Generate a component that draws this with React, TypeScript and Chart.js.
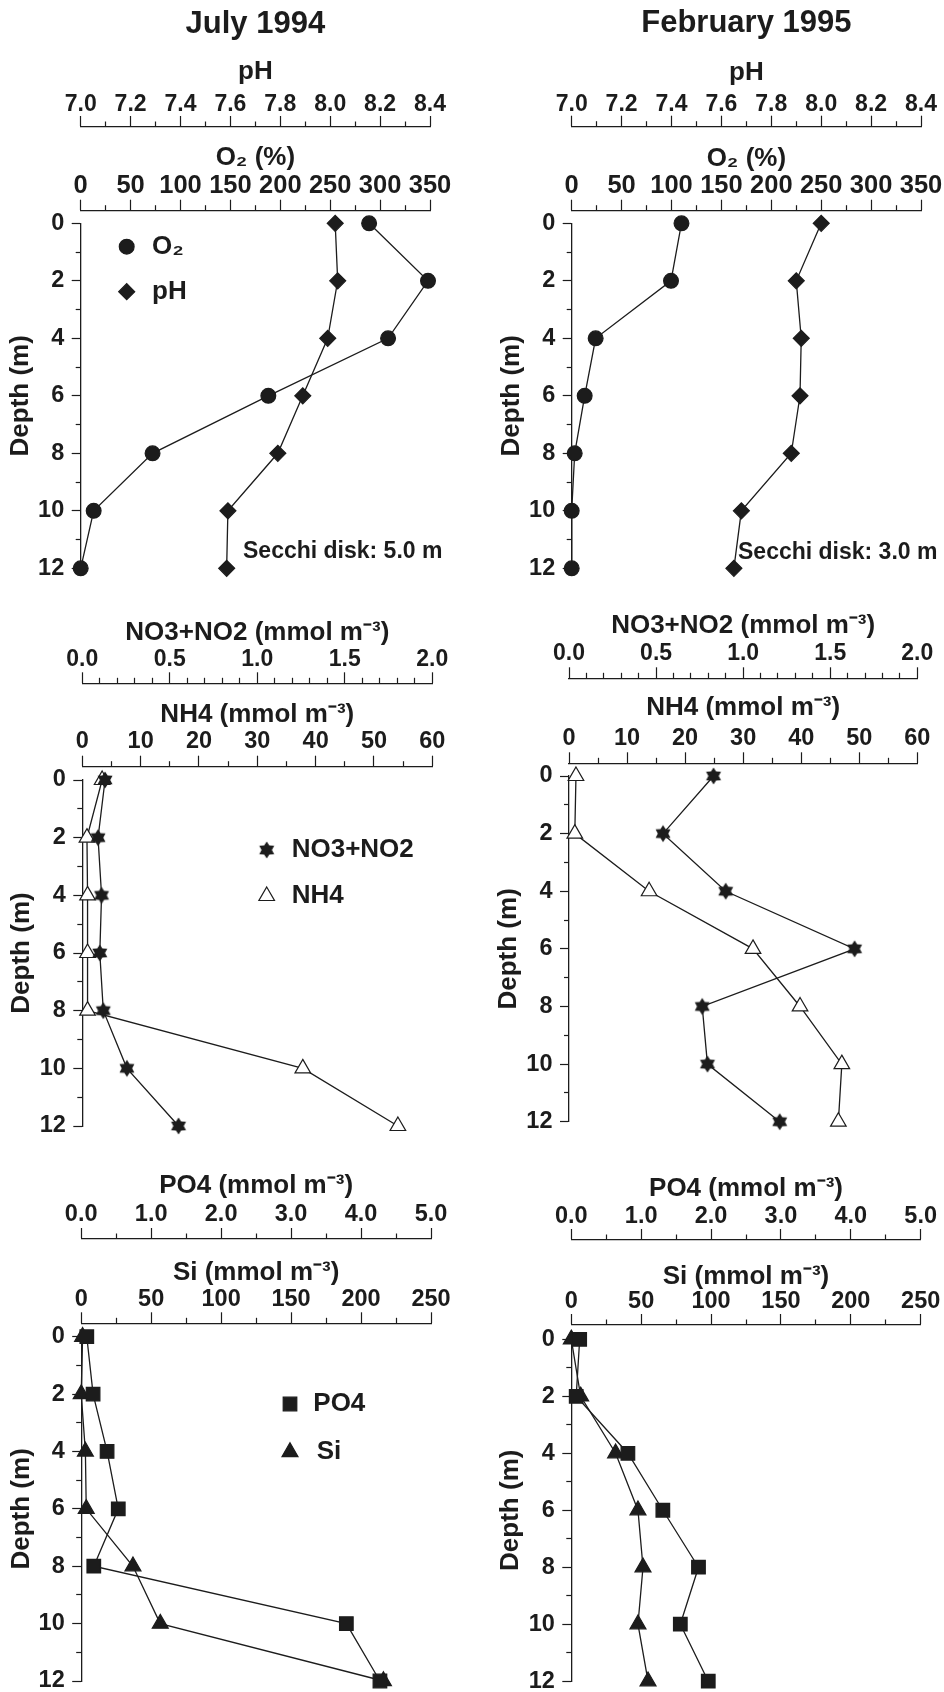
import React, { useEffect, useRef } from 'react';
import { Chart, registerables } from 'chart.js';

Chart.register(...registerables);

const INK = '#1c1c1c';
const FONT = "'Liberation Sans', Arial, Helvetica, sans-serif";
const NARROW = "'Liberation Sans Narrow', 'Arial Narrow', 'Liberation Sans', Arial, sans-serif";

// ---------- data ----------
const DEPTH = [0, 2, 4, 6, 8, 10, 12];
const DEPTH_TICK_LABELS = ['0', '2', '4', '6', '8', '10', '12'];

const PH_TICK_LABELS = ['7.0', '7.2', '7.4', '7.6', '7.8', '8.0', '8.2', '8.4'];
const O2_TICK_LABELS = ['0', '50', '100', '150', '200', '250', '300', '350'];
const NO3_TICK_LABELS = ['0.0', '0.5', '1.0', '1.5', '2.0'];
const NH4_TICK_LABELS = ['0', '10', '20', '30', '40', '50', '60'];
const PO4_TICK_LABELS = ['0.0', '1.0', '2.0', '3.0', '4.0', '5.0'];
const SI_TICK_LABELS = ['0', '50', '100', '150', '200', '250'];

// July 1994
const O2_JUL = [289, 348, 308, 188, 72, 13, 0];
const PH_JUL = [8.02, 8.03, 7.99, 7.89, 7.79, 7.59, 7.585];
const NO3_JUL = [0.13, 0.09, 0.11, 0.1, 0.12, 0.255, 0.55];
const NH4_JUL = [3.4, 0.8, 0.9, 0.9, 0.9, 37.8, 54.1];
const PO4_JUL = [0.08, 0.17, 0.37, 0.53, 0.18, 3.79, 4.27];
const SI_JUL = [1, 0, 3, 3.6, 37, 56.5, 216];

// February 1995
const O2_FEB = [110, 99.5, 24, 13, 3, 0, 0];
const PH_FEB = [8.0, 7.9, 7.92, 7.915, 7.88, 7.68, 7.65];
const NO3_FEB = [0.83, 0.54, 0.9, 1.64, 0.765, 0.795, 1.21];
const NH4_FEB = [1.2, 1.0, 13.8, 31.7, 39.8, 47.0, 46.4];
const PO4_FEB = [0.12, 0.07, 0.81, 1.31, 1.82, 1.56, 1.96];
const SI_FEB = [0, 6.7, 31.7, 47.7, 51.3, 47.7, 54.9];

// ---------- helpers ----------
type Tk = { value: number; lbl: string; minor: boolean };
function buildTicks(labels: string[], sub: number): Tk[] {
  const out: Tk[] = [];
  for (let i = 0; i < labels.length; i++) {
    const v = parseFloat(labels[i]);
    out.push({ value: v, lbl: labels[i], minor: false });
    if (i < labels.length - 1 && sub > 1) {
      const next = parseFloat(labels[i + 1]);
      for (let k = 1; k < sub; k++) out.push({ value: v + ((next - v) * k) / sub, lbl: '', minor: true });
    }
  }
  return out;
}

let STAR: HTMLCanvasElement | null = null;
function starImg(): HTMLCanvasElement {
  if (STAR) return STAR;
  const R = 8.6;
  const size = Math.ceil(R * 2 + 2);
  const c = document.createElement('canvas');
  c.width = size;
  c.height = size;
  const g = c.getContext('2d')!;
  const cx = size / 2, cy = size / 2, r = R / Math.sqrt(3) * 1.05;
  g.beginPath();
  for (let k = 0; k < 12; k++) {
    const a = -Math.PI / 2 + (k * Math.PI) / 6;
    const rr = k % 2 === 0 ? R : r;
    const px = cx + rr * Math.cos(a), py = cy + rr * Math.sin(a);
    if (k === 0) g.moveTo(px, py); else g.lineTo(px, py);
  }
  g.closePath();
  g.fillStyle = INK;
  g.fill();
  STAR = c;
  return c;
}

function drawMarker(ctx: CanvasRenderingContext2D, style: string, r: number, fill: string, x: number, y: number) {
  if (style === 'star') {
    const img = starImg();
    ctx.drawImage(img, x - img.width / 2, y - img.height / 2);
    return;
  }
  ctx.beginPath();
  if (style === 'circle') ctx.arc(x, y, r, 0, Math.PI * 2);
  else if (style === 'rect') {
    const s = r * Math.SQRT1_2;
    ctx.rect(x - s, y - s, 2 * s, 2 * s);
  } else if (style === 'rectRot') {
    ctx.moveTo(x - r, y); ctx.lineTo(x, y - r); ctx.lineTo(x + r, y); ctx.lineTo(x, y + r); ctx.closePath();
  } else if (style === 'triangle') {
    const t = (2 * Math.PI) / 3;
    ctx.moveTo(x, y - r);
    ctx.lineTo(x + r * Math.sin(t), y - r * Math.cos(t));
    ctx.lineTo(x + r * Math.sin(2 * t), y - r * Math.cos(2 * t));
    ctx.closePath();
  }
  ctx.fillStyle = fill;
  ctx.fill();
  ctx.lineWidth = 1.2;
  ctx.strokeStyle = INK;
  ctx.stroke();
}

type AxisSpec = {
  title: string; labels: string[]; sub: number; line: number; titleC: number; labelC: number; size: number; family?: string;
};
type Series = { label: string; values: number[]; axis: 'A' | 'B'; style: string; r: number; fill: string };
type PanelSpec = {
  x: number; y: number; w: number; h: number;
  title?: string; titleC?: number;
  L: number; R: number; d0: number; d12: number; yTitleC: number;
  A: AxisSpec; B: AxisSpec;
  series: Series[];
  legend: { s: number; mx: number; my: number; tx: number }[];
  note?: { text: string; x: number; y: number };
};

const phAxis = (line: number, titleC: number, labelC: number): AxisSpec => ({ title: 'pH', labels: PH_TICK_LABELS, sub: 2, line, titleC, labelC, size: 23 });
const o2Axis = (line: number, titleC: number, labelC: number): AxisSpec => ({ title: 'O₂ (%)', labels: O2_TICK_LABELS, sub: 2, line, titleC, labelC, size: 25.5, family: NARROW });
const no3Axis = (line: number, titleC: number, labelC: number): AxisSpec => ({ title: 'NO3+NO2 (mmol m⁻³)', labels: NO3_TICK_LABELS, sub: 5, line, titleC, labelC, size: 23 });
const nh4Axis = (line: number, titleC: number, labelC: number): AxisSpec => ({ title: 'NH4 (mmol m⁻³)', labels: NH4_TICK_LABELS, sub: 2, line, titleC, labelC, size: 23.5 });
const po4Axis = (line: number, titleC: number, labelC: number): AxisSpec => ({ title: 'PO4 (mmol m⁻³)', labels: PO4_TICK_LABELS, sub: 2, line, titleC, labelC, size: 23.5 });
const siAxis = (line: number, titleC: number, labelC: number): AxisSpec => ({ title: 'Si (mmol m⁻³)', labels: SI_TICK_LABELS, sub: 2, line, titleC, labelC, size: 23.5 });

const PANELS: PanelSpec[] = [
  {
    x: 0, y: 0, w: 470, h: 590, title: 'July 1994', titleC: 24.2,
    L: 80.7, R: 430, d0: 223.3, d12: 568.3, yTitleC: 20.5,
    A: phAxis(127, 71.7, 104.5), B: o2Axis(210.7, 157.5, 185.8),
    series: [
      { label: 'O₂', values: O2_JUL, axis: 'B', style: 'circle', r: 7.4, fill: INK },
      { label: 'pH', values: PH_JUL, axis: 'A', style: 'rectRot', r: 8, fill: INK },
    ],
    legend: [{ s: 0, mx: 126.7, my: 246.7, tx: 152 }, { s: 1, mx: 126.7, my: 291.7, tx: 152 }],
    note: { text: 'Secchi disk: 5.0 m', x: 243, y: 552 },
  },
  {
    x: 470, y: 0, w: 474, h: 590, title: 'February 1995', titleC: 23.3,
    L: 101.7, R: 451, d0: 223.3, d12: 568.3, yTitleC: 42,
    A: phAxis(126.7, 72.5, 105), B: o2Axis(210.7, 159, 185.8),
    series: [
      { label: 'O₂', values: O2_FEB, axis: 'B', style: 'circle', r: 7.4, fill: INK },
      { label: 'pH', values: PH_FEB, axis: 'A', style: 'rectRot', r: 8, fill: INK },
    ],
    legend: [],
    note: { text: 'Secchi disk: 3.0 m', x: 268, y: 553 },
  },
  {
    x: 0, y: 590, w: 470, h: 570,
    L: 82.3, R: 432.3, d0: 190, d12: 536, yTitleC: 22,
    A: no3Axis(93.3, 43, 69.2), B: nh4Axis(176.7, 125, 151.7),
    series: [
      { label: 'NO3+NO2', values: NO3_JUL, axis: 'A', style: 'star', r: 8, fill: INK },
      { label: 'NH4', values: NH4_JUL, axis: 'B', style: 'triangle', r: 9, fill: '#ffffff' },
    ],
    legend: [{ s: 0, mx: 266.7, my: 260, tx: 291.7 }, { s: 1, mx: 266.7, my: 306, tx: 291.7 }],
  },
  {
    x: 470, y: 590, w: 474, h: 570,
    L: 99, R: 447.3, d0: 186, d12: 531.7, yTitleC: 38.5,
    A: no3Axis(88.3, 35.8, 63.3), B: nh4Axis(173.3, 118.3, 148.3),
    series: [
      { label: 'NO3+NO2', values: NO3_FEB, axis: 'A', style: 'star', r: 8, fill: INK },
      { label: 'NH4', values: NH4_FEB, axis: 'B', style: 'triangle', r: 9, fill: '#ffffff' },
    ],
    legend: [],
  },
  {
    x: 0, y: 1160, w: 470, h: 532,
    L: 81.2, R: 431, d0: 176.7, d12: 521, yTitleC: 22,
    A: po4Axis(79, 25.8, 55), B: siAxis(163.3, 112.5, 140),
    series: [
      { label: 'PO4', values: PO4_JUL, axis: 'A', style: 'rect', r: 9.6, fill: INK },
      { label: 'Si', values: SI_JUL, axis: 'B', style: 'triangle', r: 9.2, fill: INK },
    ],
    legend: [{ s: 0, mx: 290, my: 244, tx: 313.3 }, { s: 1, mx: 290, my: 292, tx: 316.7 }],
  },
  {
    x: 470, y: 1160, w: 474, h: 532,
    L: 101.3, R: 450.7, d0: 179.3, d12: 522.7, yTitleC: 41,
    A: po4Axis(80, 29.2, 56.7), B: siAxis(165, 116.7, 141.7),
    series: [
      { label: 'PO4', values: PO4_FEB, axis: 'A', style: 'rect', r: 9.6, fill: INK },
      { label: 'Si', values: SI_FEB, axis: 'B', style: 'triangle', r: 9.2, fill: INK },
    ],
    legend: [],
  },
];

const TL_X = 11; // major tick length, x axes
const MINOR_X = 5.5;
const TL_Y = 9;
const MINOR_Y = 5;
const AX_TITLE_SIZE = 26;
const AX_TITLE_LH = AX_TITLE_SIZE * 1.2;

function makeConfig(p: PanelSpec): any {
  let top = 0;
  const plugins: any = { legend: { display: false }, tooltip: { enabled: false } };
  if (p.title) {
    const lh = 31 * 1.2;
    const pt = (p.titleC as number) - lh / 2;
    plugins.title = {
      display: true, text: p.title, fullSize: false, color: INK,
      font: { family: FONT, size: 31, weight: 'bold', lineHeight: 1.2 },
      padding: { top: pt, bottom: 0 },
    };
    top = pt + lh;
  }

  const xAxis = (ax: AxisSpec, boxTop: number, weight: number) => ({
    type: 'linear', position: 'top', axis: 'x', weight,
    min: parseFloat(ax.labels[0]), max: parseFloat(ax.labels[ax.labels.length - 1]),
    afterBuildTicks: (s: any) => { s.ticks = buildTicks(ax.labels, ax.sub); },
    afterFit: (s: any) => { s.height = ax.line - boxTop; s.paddingLeft = 0; s.paddingRight = 0; },
    ticks: {
      autoSkip: false, maxRotation: 0, minRotation: 0, color: INK,
      font: { family: ax.family ?? FONT, size: ax.size, weight: 'bold', lineHeight: 1 },
      padding: ax.line - ax.labelC - TL_X - ax.size / 2,
      callback: (_v: any, i: number, t: any[]) => t[i].lbl,
    },
    grid: {
      display: true, drawOnChartArea: false, drawTicks: true, tickLength: TL_X, tickWidth: 1.2, tickColor: INK,
      tickBorderDash: (c: any) => (c.tick && c.tick.minor ? [MINOR_X, TL_X - MINOR_X] : []),
      tickBorderDashOffset: (c: any) => (c.tick && c.tick.minor ? MINOR_X : 0),
    },
    border: { display: true, color: INK, width: 1.3 },
    title: {
      display: true, text: ax.title, color: INK,
      font: { family: FONT, size: AX_TITLE_SIZE, weight: 'bold', lineHeight: 1.2 },
      padding: { top: ax.titleC - boxTop - AX_TITLE_LH / 2, bottom: 0 },
    },
  });

  const scales: any = {
    xA: xAxis(p.A, top, 2),
    xB: xAxis(p.B, p.A.line, 1),
    xS: {
      type: 'linear', position: 'top', axis: 'x', weight: 0, min: 0, max: 1, display: true,
      ticks: { display: false }, grid: { display: false }, border: { display: false }, title: { display: false },
      afterFit: (s: any) => { s.height = p.d0 - p.B.line; s.paddingLeft = 0; s.paddingRight = 0; },
    },
    y: {
      type: 'linear', position: 'left', reverse: true, min: 0, max: 12,
      afterBuildTicks: (s: any) => { s.ticks = buildTicks(DEPTH_TICK_LABELS, 2); },
      afterFit: (s: any) => { s.width = p.L; s.paddingTop = 0; s.paddingBottom = 0; },
      ticks: {
        autoSkip: false, color: INK, padding: 7.5,
        font: { family: FONT, size: 23.5, weight: 'bold', lineHeight: 1 },
        callback: (_v: any, i: number, t: any[]) => t[i].lbl,
      },
      grid: {
        display: true, drawOnChartArea: false, drawTicks: true, tickLength: TL_Y, tickWidth: 1.2, tickColor: INK,
        tickBorderDash: (c: any) => (c.tick && c.tick.minor ? [MINOR_Y, TL_Y - MINOR_Y] : []),
        tickBorderDashOffset: (c: any) => (c.tick && c.tick.minor ? MINOR_Y : 0),
      },
      border: { display: true, color: INK, width: 1.3 },
      title: {
        display: true, text: 'Depth (m)', color: INK,
        font: { family: FONT, size: AX_TITLE_SIZE, weight: 'bold', lineHeight: 1.2 },
        padding: { top: p.yTitleC - AX_TITLE_LH / 2, bottom: 0 },
      },
    },
  };

  const datasets = p.series.map((s) => ({
    type: 'scatter',
    label: s.label,
    data: DEPTH.map((d, i) => ({ x: s.values[i], y: d })),
    xAxisID: s.axis === 'A' ? 'xA' : 'xB',
    yAxisID: 'y',
    showLine: true,
    borderColor: INK,
    borderWidth: 1.3,
    tension: 0,
    pointStyle: s.style === 'star' ? starImg() : s.style,
    pointRadius: s.r,
    pointHoverRadius: s.r,
    pointBackgroundColor: s.fill,
    pointBorderColor: INK,
    pointBorderWidth: 1.2,
    clip: false,
  }));

  const deco = {
    id: 'deco',
    afterDatasetsDraw(chart: any) {
      const ctx: CanvasRenderingContext2D = chart.ctx;
      ctx.save();
      for (const lg of p.legend) {
        const s = p.series[lg.s];
        drawMarker(ctx, s.style, s.r, s.fill, lg.mx, lg.my);
        ctx.fillStyle = INK;
        ctx.font = `bold 26px ${FONT}`;
        ctx.textAlign = 'left';
        ctx.textBaseline = 'middle';
        ctx.fillText(s.label, lg.tx, lg.my);
      }
      if (p.note) {
        ctx.fillStyle = INK;
        ctx.font = `bold 23px ${FONT}`;
        ctx.textAlign = 'left';
        ctx.textBaseline = 'middle';
        ctx.fillText(p.note.text, p.note.x, p.note.y);
      }
      ctx.restore();
    },
  };

  return {
    type: 'scatter',
    data: { datasets },
    options: {
      responsive: false,
      maintainAspectRatio: false,
      animation: false,
      devicePixelRatio: 1,
      events: [],
      layout: { padding: { left: 0, top: 0, right: p.w - p.R, bottom: p.h - p.d12 } },
      plugins,
      scales,
    },
    plugins: [deco],
  };
}

function Panel({ spec }: { spec: PanelSpec }) {
  const ref = useRef<HTMLCanvasElement | null>(null);
  useEffect(() => {
    if (!ref.current) return;
    const chart = new Chart(ref.current, makeConfig(spec));
    return () => chart.destroy();
  }, [spec]);
  return (
    <canvas
      ref={ref}
      width={spec.w}
      height={spec.h}
      style={{ position: 'absolute', left: spec.x, top: spec.y, width: spec.w, height: spec.h }}
    />
  );
}

export default function App() {
  return (
    <div style={{ position: 'absolute', left: 0, top: 0, width: 944, height: 1692, overflow: 'hidden', background: '#ffffff' }}>
      {PANELS.map((p, i) => (
        <Panel key={i} spec={p} />
      ))}
    </div>
  );
}
